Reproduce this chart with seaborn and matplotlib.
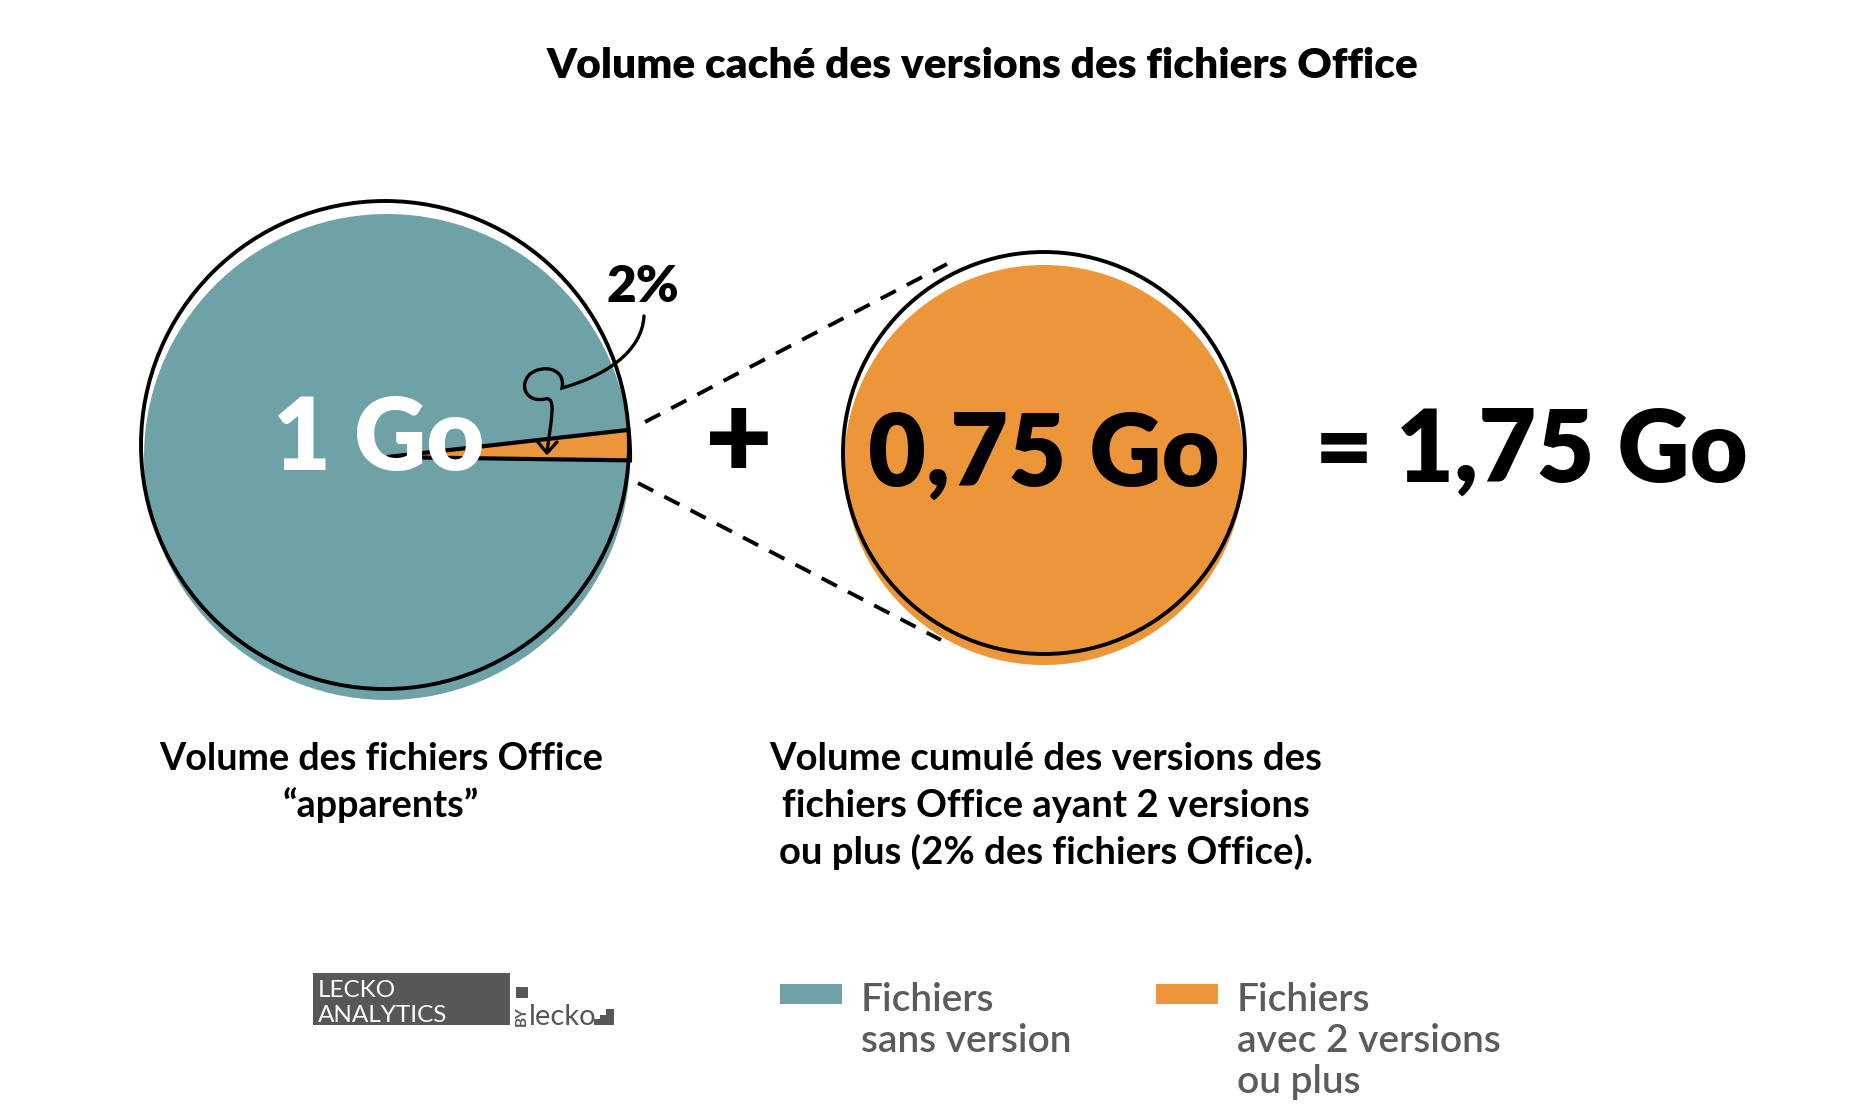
import matplotlib
matplotlib.use("Agg")
import matplotlib.pyplot as plt
import seaborn as sns
from matplotlib.patches import Circle, Rectangle, PathPatch
from matplotlib.path import Path

# ---------------- data ----------------
title = "Volume caché des versions des fichiers Office"
categories = ["Fichiers\nsans version", "Fichiers\navec 2 versions\nou plus"]
share_pct = [98, 2]              # share of Office files (left pie)
volumes_go = [1.0, 0.75]         # visible volume, hidden version volume
total_go = 1.75
pct_label = "2%"
caption_left = ["Volume des fichiers Office", "\u201capparents\u201d"]
caption_right = ["Volume cumulé des versions des",
                 "fichiers Office ayant 2 versions",
                 "ou plus (2% des fichiers Office)."]
palette = sns.color_palette(["#6fa2a7", "#ed9639"])

def fmt_go(v):
    s = f"{v:.2f}".rstrip("0").rstrip(".")
    return s.replace(".", ",") + " Go"

# ---------------- figure ----------------
sns.set_theme(style="white")
plt.rcParams['font.family'] = ['Lato', 'DejaVu Sans']

W, H = 1868, 1104
fig = plt.figure(figsize=(W / 100, H / 100), dpi=100)
ax = fig.add_axes([0, 0, 1, 1])

def reset():
    ax.set_xlim(0, W)
    ax.set_ylim(H, 0)
    ax.set_aspect('equal')
    ax.axis('off')

reset()

# ---- left pie (shares) ----
fill_c = (387, 457)
out_c = (385, 445)
R1 = 243
ax.pie(share_pct, colors=palette, center=fill_c, radius=R1,
       startangle=0.8, counterclock=True,
       wedgeprops=dict(linewidth=0))
wedges, _ = ax.pie(share_pct, colors=["none", "none"], center=fill_c, radius=R1,
                   startangle=0.8, counterclock=True,
                   wedgeprops=dict(linewidth=0))
wedges[1].set_edgecolor("black")
wedges[1].set_linewidth(3.0)
wedges[1].set_zorder(3)
reset()
ax.add_patch(Circle(out_c, 244, fill=False, ec="black", lw=2.8, zorder=4))

# ---- right circle (hidden volume) ----
ax.pie([volumes_go[1]], colors=[palette[1]], center=(1044, 465), radius=200,
       wedgeprops=dict(linewidth=0))
reset()
ax.add_patch(Circle((1044, 453), 201, fill=False, ec="black", lw=2.8, zorder=4))

# dashed zoom lines
for (x0, y0), (x1, y1) in [((645, 422), (947, 264)), ((638, 483), (941, 640))]:
    ax.plot([x0, x1], [y0, y1], color="black", lw=2.8,
            linestyle=(0, (4.4, 3.2)), solid_capstyle="round", zorder=2)

# ---- big numbers ----
big = dict(fontsize=72, fontweight="heavy", ha="center", va="baseline", zorder=6)
ax.text(379, 470, fmt_go(volumes_go[0]), color="white", **big)
ax.text(1044, 486, fmt_go(volumes_go[1]), color="black", **big)
ax.text(1531, 482, "= " + fmt_go(total_go), color="black", **big)
ax.text(739, 444, "+", color="black", fontsize=84, fontweight="heavy",
        ha="center", va="center", zorder=6)

# ---- 2% label and curly arrow ----
ax.text(643, 302, pct_label, fontsize=37, fontweight="heavy", ha="center",
        va="baseline", color="black", zorder=6)
verts = [(644, 316),
         (642, 352), (605, 376), (562, 388),
         (566, 370), (545, 363), (530, 374),
         (518, 386), (527, 403), (545, 399),
         (557, 396), (551, 420), (547, 452)]
codes = [Path.MOVETO] + [Path.CURVE4] * 12
ax.add_patch(PathPatch(Path(verts, codes), fill=False, ec="black", lw=2.4,
                       capstyle="round", zorder=7))
ax.plot([537, 547, 557], [441, 453, 442], color="black", lw=2.4,
        solid_capstyle="round", solid_joinstyle="round", zorder=7)

# ---- title ----
ax.text(982, 78, title, fontsize=30.5, fontweight="heavy", ha="center",
        va="baseline", color="black")

# ---- captions ----
for i, line in enumerate(caption_left):
    ax.text(381, 770 + i * 47, line, fontsize=27.2, fontweight="bold",
            ha="center", va="baseline", color="black")
for i, line in enumerate(caption_right):
    ax.text(1046, 770 + i * 47, line, fontsize=27.5, fontweight="bold",
            ha="center", va="baseline", color="black")

# ---- legend ----
leg_text = "#5b5b5b"
leg_x = [780, 1156]
for k, (lx, lab) in enumerate(zip(leg_x, categories)):
    ax.add_patch(Rectangle((lx, 984), 62, 20, color=palette[k], lw=0))
    for j, line in enumerate(lab.split("\n")):
        ax.text(lx + 81, 1011 + j * 41, line, fontsize=28, fontweight="semibold",
                ha="left", va="baseline", color=leg_text)

# ---- logo ----
logo = "#575757"
ax.add_patch(Rectangle((313, 973), 197, 52, color=logo, lw=0))
ax.text(318, 997, "LECKO", fontsize=17.5, color="white", ha="left", va="baseline")
ax.text(318, 1022, "ANALYTICS", fontsize=17.5, color="white", ha="left", va="baseline")
ax.add_patch(Rectangle((516, 987), 12, 11, color=logo, lw=0))
ax.text(522, 1026, "BY", fontsize=11, fontweight="bold", rotation=90,
        color=logo, ha="center", va="bottom")
ax.text(529, 1025, "lecko", fontsize=21, fontweight="normal", color=logo,
        ha="left", va="baseline")
ax.add_patch(Rectangle((594, 1019), 6, 6, color=logo, lw=0))
ax.add_patch(Rectangle((600, 1009), 14, 16, color=logo, lw=0))
ax.add_patch(Rectangle((600, 1009), 6, 6, color="white", lw=0))

reset()
fig.savefig("out.png", dpi=100)
